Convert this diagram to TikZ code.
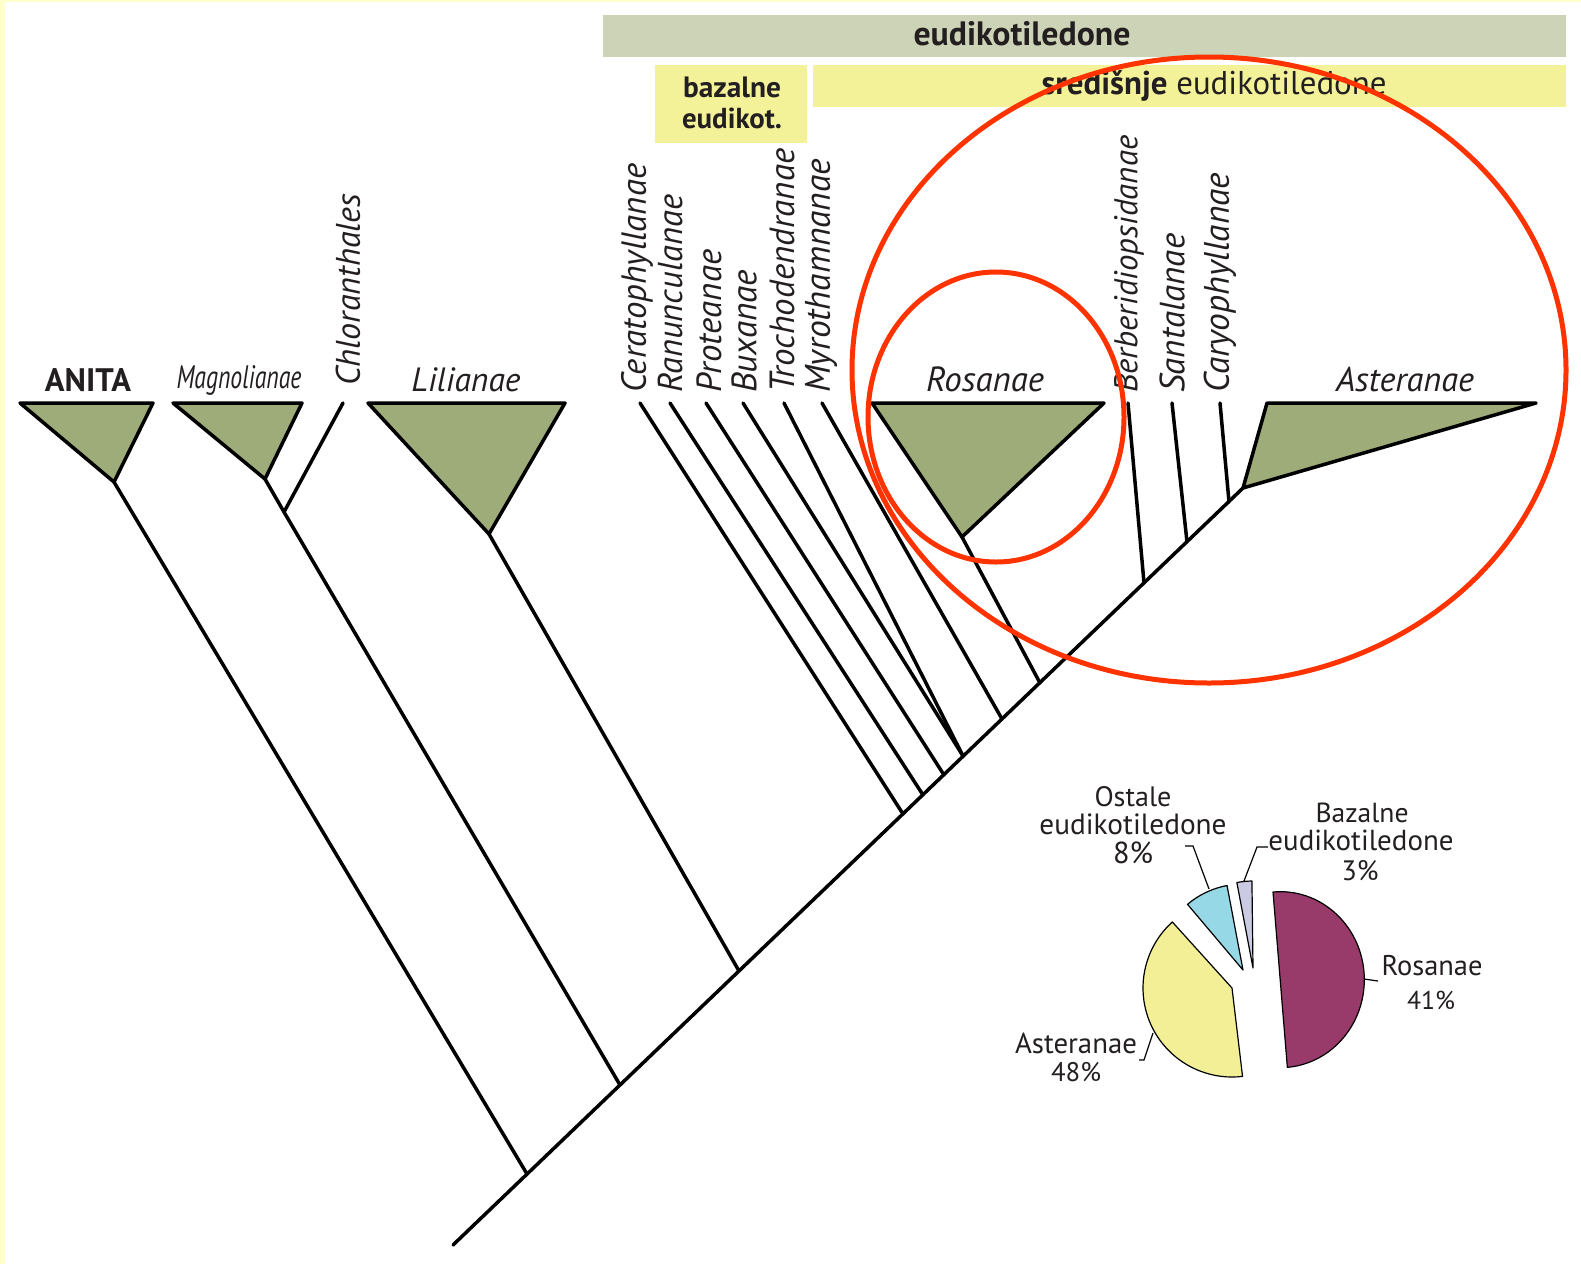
\documentclass[tikz,border=0pt]{standalone}
\usepackage{fontspec}
\setmainfont{PT Sans}
\usepackage{graphicx}
\definecolor{bgyellow}{HTML}{FFFFCC}
\definecolor{cladegreen}{HTML}{9DAC79}
\definecolor{headgray}{HTML}{CDD3B6}
\definecolor{headyellow}{HTML}{F3F299}
\definecolor{ringred}{HTML}{FF3300}
\definecolor{txt}{HTML}{231F20}
\definecolor{pieros}{HTML}{983A6A}
\definecolor{pieast}{HTML}{F2EF96}
\definecolor{pieost}{HTML}{97D8E6}
\definecolor{piebaz}{HTML}{CACAE2}
\begin{document}
\begin{tikzpicture}[x=1pt,y=-1pt,
  branch/.style={line width=3.5pt,line cap=round,line join=round},
  clade/.style={draw=black,fill=cladegreen,line width=3.5pt,line join=round},
  lab/.style={inner sep=0pt,text=txt},
  vlab/.style={inner sep=0pt,text=txt,rotate=90,anchor=west},
  pielab/.style={inner sep=0pt,text=txt,anchor=base},
  slice/.style={draw=black,line width=1.2pt,line join=round},
  leader/.style={draw=black,line width=1.2pt},
  ring/.style={draw=ringred,line width=5pt}]
\useasboundingbox (0,0) rectangle (1581,1264);
\fill[white] (0,0) rectangle (1581,1264);
\fill[bgyellow] (0,0) rectangle (5,1264);
\fill[bgyellow] (0,0) rectangle (1581,2);

% header boxes
\fill[headgray] (603,15) rectangle (1566,57);
\fill[headyellow] (655,65) rectangle (807,143);
\fill[headyellow] (813,65) rectangle (1566,107);
\node[lab,anchor=base] (hEud) at (1022,45) {\resizebox{217pt}{!}{\bfseries eudikotiledone}};
\node[lab,anchor=base] (hBaz1) at (732,97) {\resizebox{98pt}{!}{\bfseries bazalne}};
\node[lab,anchor=base] (hBaz2) at (732,128) {\resizebox{100pt}{!}{\bfseries eudikot.}};
\node[lab,anchor=base] (hSred) at (1214,94) {\resizebox{345pt}{!}{\textbf{središnje} eudikotiledone}};

% backbone coordinates
\coordinate (root) at (453,1245);
\coordinate (jA) at (527,1174);
\coordinate (jM) at (620,1085);
\coordinate (jL) at (739,971);
\coordinate (jC1) at (903,814);
\coordinate (jC2) at (923,795);
\coordinate (jC3) at (944,775);
\coordinate (jC4) at (963,756);
\coordinate (jC5) at (1002,719);
\coordinate (jC6) at (1040,683);
\coordinate (jB) at (1144,583);
\coordinate (jS) at (1187,542);
\coordinate (jCa) at (1229,502);
\coordinate (aAst) at (1243,488);

% tips
\coordinate (aAn) at (114,482);
\coordinate (aMag) at (265,479);
\coordinate (jCh) at (284,512);
\coordinate (tCh) at (343,403);
\coordinate (aLil) at (489,534);
\coordinate (tCer) at (640,403);
\coordinate (tRan) at (670,403);
\coordinate (tPro) at (706,403);
\coordinate (tBux) at (743,403);
\coordinate (tTro) at (784,403);
\coordinate (tMyr) at (822,403);
\coordinate (aRos) at (962,537);
\coordinate (tBer) at (1128,403);
\coordinate (tSan) at (1172,403);
\coordinate (tCar) at (1220,403);

% branches
\draw[branch] (root) -- (aAst);
\draw[branch] (aAn) -- (jA);
\draw[branch] (aMag) -- (jCh) -- (jM);
\draw[branch] (tCh) -- (jCh);
\draw[branch] (aLil) -- (jL);
\draw[branch] (tCer) -- (jC1);
\draw[branch] (tRan) -- (jC2);
\draw[branch] (tPro) -- (jC3);
\draw[branch] (tBux) -- (jC4);
\draw[branch] (tTro) -- (jC4);
\draw[branch] (tMyr) -- (jC5);
\draw[branch] (aRos) -- (jC6);
\draw[branch] (tBer) -- (jB);
\draw[branch] (tSan) -- (jS);
\draw[branch] (tCar) -- (jCa);

% collapsed clades
\draw[clade] (20,403) -- (153,403) -- (aAn) -- cycle;
\draw[clade] (173,403) -- (302,403) -- (aMag) -- cycle;
\draw[clade] (368,403) -- (565,403) -- (aLil) -- cycle;
\draw[clade] (872,403) -- (1104,403) -- (aRos) -- cycle;
\draw[clade] (1267,403) -- (1536,403) -- (aAst) -- cycle;

% upright labels
\node[lab,anchor=base] (lAn) at (88,391) {\resizebox{86pt}{!}{\bfseries ANITA}};
\node[lab,anchor=base] (lMag) at (239,388) {\resizebox{125pt}{23pt}{\itshape Magnolianae}};
\node[lab,anchor=base] (lLil) at (466,391) {\resizebox{109pt}{!}{\itshape Lilianae}};
\node[lab,anchor=base] (lRos) at (985,391) {\resizebox{118pt}{!}{\itshape Rosanae}};
\node[lab,anchor=base] (lAst) at (1405,391) {\resizebox{138pt}{!}{\itshape Asteranae}};

% rotated labels
\node[vlab] (lCh) at (348,386) {\resizebox{192pt}{!}{\itshape Chloranthales}};
\node[vlab] (lCer) at (637,393) {\resizebox{229pt}{!}{\itshape Ceratophyllanae}};
\node[vlab] (lRan) at (670,393) {\resizebox{198pt}{!}{\itshape Ranunculanae}};
\node[vlab] (lPro) at (709,393) {\resizebox{143pt}{!}{\itshape Proteanae}};
\node[vlab] (lBux) at (744,393) {\resizebox{123pt}{!}{\itshape Buxanae}};
\node[vlab] (lTro) at (782,393) {\resizebox{244pt}{!}{\itshape Trochodendranae}};
\node[vlab] (lMyr) at (821,393) {\resizebox{234pt}{!}{\itshape Myrothamnanae}};
\node[vlab] (lBer) at (1129,393) {\resizebox{257pt}{!}{\itshape Berberidiopsidanae}};
\node[vlab] (lSan) at (1172,393) {\resizebox{159pt}{!}{\itshape Santalanae}};
\node[vlab] (lCar) at (1220,393) {\resizebox{220pt}{!}{\itshape Caryophyllanae}};

% pie chart
\coordinate (cAst) at (1232,988);
\coordinate (cOst) at (1243,970);
\coordinate (cBaz) at (1253,968);
\coordinate (rTop) at (1273,892);
\draw[slice,fill=pieros] (rTop) arc[start angle=-95,end angle=85.2,x radius=84,y radius=88] -- cycle;
\draw[slice,fill=pieast] (cAst) -- ++(227.9:89) arc[start angle=227.9,end angle=83.2,radius=89] -- cycle;
\draw[slice,fill=pieost] (cOst) -- ++(229.8:86) arc[start angle=229.8,end angle=259.3,radius=86] -- cycle;
\draw[slice,fill=piebaz] (cBaz) -- ++(259.3:87) arc[start angle=259.3,end angle=269.3,radius=87] -- cycle;

\node[pielab] (pO1) at (1133,806) {\resizebox{77pt}{!}{Ostale}};
\node[pielab] (pO2) at (1133,834) {\resizebox{187pt}{!}{eudikotiledone}};
\node[pielab] (pO3) at (1133,863) {\resizebox{40pt}{!}{8\%}};
\node[pielab] (pB1) at (1362,822) {\resizebox{93pt}{!}{Bazalne}};
\node[pielab] (pB2) at (1361,850) {\resizebox{185pt}{!}{eudikotiledone}};
\node[pielab] (pB3) at (1360,880) {\resizebox{37pt}{!}{3\%}};
\node[pielab] (pR1) at (1432,975) {\resizebox{101pt}{!}{Rosanae}};
\node[pielab] (pR2) at (1431,1009) {\resizebox{48pt}{!}{41\%}};
\node[pielab] (pA1) at (1076,1053) {\resizebox{122pt}{!}{Asteranae}};
\node[pielab] (pA2) at (1076,1081) {\resizebox{50pt}{!}{48\%}};

\coordinate (kO1) at (1185,846);
\coordinate (kO2) at (1193,846);
\coordinate (kO3) at (1209,889);
\coordinate (kB1) at (1268,847);
\coordinate (kB2) at (1257,847);
\coordinate (kB3) at (1244,881);
\coordinate (kR1) at (1364,979);
\coordinate (kR2) at (1378,981);
\coordinate (kA1) at (1153,1033);
\coordinate (kA2) at (1144,1060);
\coordinate (kA3) at (1139,1060);
\draw[leader] (kO1) -- (kO2) -- (kO3);
\draw[leader] (kB1) -- (kB2) -- (kB3);
\draw[leader] (kR1) -- (kR2);
\draw[leader] (kA1) -- (kA2) -- (kA3);

% red highlight rings
\coordinate (ringS) at (996,417);
\coordinate (ringB) at (1209,370);
\draw[ring] (ringS) ellipse[x radius=128,y radius=145];
\draw[ring] (ringB) ellipse[x radius=357,y radius=313];
\end{tikzpicture}
\end{document}
